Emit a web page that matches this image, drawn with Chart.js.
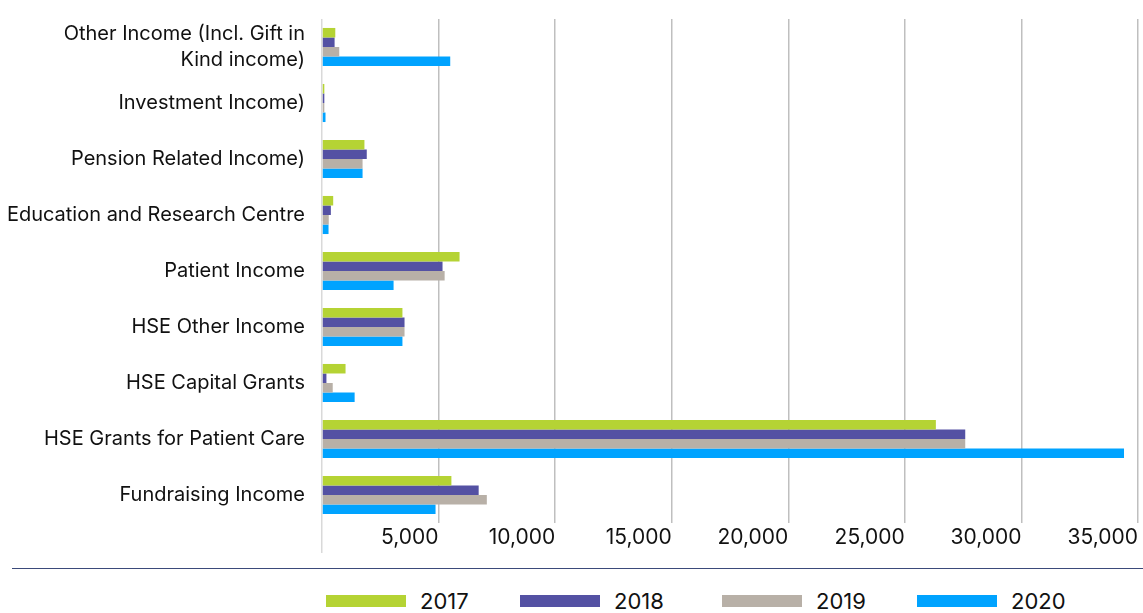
<!DOCTYPE html>
<html lang="en">
<head>
    <meta charset="UTF-8">
    <title>Income by source 2017-2020</title>
    <script src="https://cdn.jsdelivr.net/npm/chart.js"></script>
    <style>
        body {
            margin: 0;
            font-family: Inter, Arial, sans-serif;
            background: #fff;
        }
        .chartContainer {
            position: relative;
            width: 1143px;
            height: 563px;
        }
        .legendLine {
            position: absolute;
            left: 12px;
            right: 0;
            top: 568px;
            border-top: 1.5px solid #3b4a7a;
        }
        #legend {
            position: absolute;
            top: 588px;
            left: 0;
            width: 1143px;
            height: 25px;
        }
        #legend .item {
            position: absolute;
            top: 0;
            display: flex;
            align-items: center;
            height: 25px;
            font-size: 22px;
            color: #111;
        }
        #legend .box {
            width: 80px;
            height: 12px;
            margin-right: 14px;
        }
    </style>
</head>
<body>
    <div class="chartContainer">
        <canvas id="incomeChart"></canvas>
    </div>
    <div class="legendLine"></div>
    <div id="legend"></div>

    <script>
        const categories = [
            ['Other Income (Incl. Gift in', 'Kind income)'],
            'Investment Income)',
            'Pension Related Income)',
            'Education and Research Centre',
            'Patient Income',
            'HSE Other Income',
            'HSE Capital Grants',
            'HSE Grants for Patient Care',
            'Fundraising Income'
        ];

        const years = ['2017', '2018', '2019', '2020'];

        const values2017 = [570, 100, 1820, 480, 5900, 3450, 1010, 26330, 5550];
        const values2018 = [540, 100, 1920, 380, 5170, 3540, 190, 27590, 6720];
        const values2019 = [740, 100, 1740, 290, 5260, 3540, 460, 27590, 7070];
        const values2020 = [5500, 150, 1740, 280, 3070, 3450, 1400, 34400, 4870];

        const xTicks = [0, 5000, 10000, 15000, 20000, 25000, 30000, 35000];

        const colors = ['#b5d334', '#5451a3', '#b8b0a7', '#00a3ff'];
        const legendLeft = [326, 520, 722, 917];

        const allValues = [values2017, values2018, values2019, values2020];

        const ctx = document.getElementById('incomeChart').getContext('2d');
        const chart = new Chart(ctx, {
            type: 'bar',
            data: {
                labels: categories,
                datasets: years.map((y, i) => ({
                    label: y,
                    data: allValues[i],
                    backgroundColor: colors[i],
                    borderWidth: 0,
                    categoryPercentage: 0.68,
                    barPercentage: 1.0
                }))
            },
            options: {
                indexAxis: 'y',
                responsive: true,
                maintainAspectRatio: false,
                animation: false,
                layout: {
                    padding: { top: 19, right: 5, left: 0, bottom: 0 }
                },
                scales: {
                    x: {
                        min: xTicks[0],
                        max: xTicks[xTicks.length - 1],
                        afterBuildTicks: (scale) => {
                            scale.ticks = xTicks.map(v => ({ value: v }));
                        },
                        afterFit: (scale) => {
                            scale.height = 40;
                        },
                        grid: {
                            color: (c) => c.tick && c.tick.value === 0 ? '#d9d9d9' : '#bfbfbf',
                            lineWidth: 1.5,
                            drawTicks: true,
                            tickLength: 30,
                            tickColor: (c) => c.tick && c.tick.value === 0 ? '#d9d9d9' : 'rgba(0,0,0,0)'
                        },
                        border: { display: false },
                        ticks: {
                            align: 'end',
                            padding: -28,
                            color: '#111',
                            font: { family: 'Inter', size: 21 },
                            callback: (v) => v === 0 ? '' : v.toLocaleString('en-US')
                        }
                    },
                    y: {
                        afterFit: (scale) => {
                            scale.width = 322;
                            scale.paddingTop = 0;
                            scale.paddingBottom = 0;
                        },
                        grid: { display: false, drawTicks: false },
                        border: { display: false },
                        ticks: {
                            padding: 17,
                            color: '#111',
                            font: { family: 'Inter', size: 20, lineHeight: 1.3 }
                        }
                    }
                },
                plugins: {
                    legend: { display: false },
                    tooltip: { enabled: false }
                }
            }
        });

        // html legend under the rule
        const legendEl = document.getElementById('legend');
        chart.data.datasets.forEach((ds, i) => {
            const item = document.createElement('div');
            item.className = 'item';
            item.style.left = legendLeft[i] + 'px';
            const box = document.createElement('span');
            box.className = 'box';
            box.style.background = ds.backgroundColor;
            item.appendChild(box);
            item.appendChild(document.createTextNode(ds.label));
            legendEl.appendChild(item);
        });
    </script>
</body>
</html>
